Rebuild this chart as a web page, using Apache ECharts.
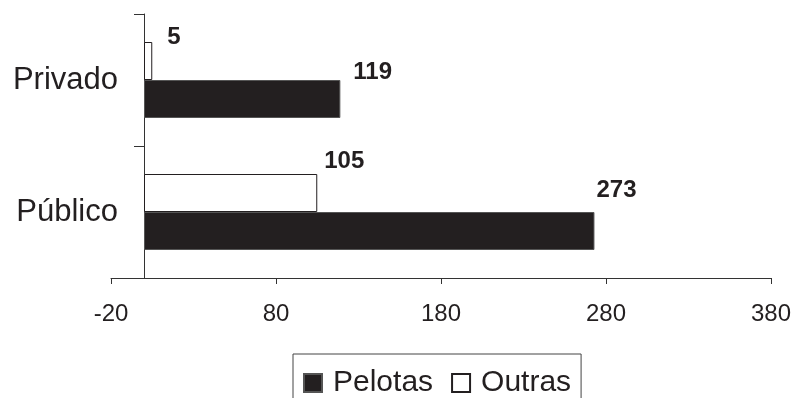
<!DOCTYPE html>
<html>
<head>
<meta charset="utf-8">
<script src="https://cdn.jsdelivr.net/npm/echarts@6/dist/echarts.min.js"></script>
<style>
  html, body { margin: 0; padding: 0; background: #fff; }
  #chart { width: 795px; height: 398px; }
</style>
</head>
<body>
<div id="chart"></div>
<script>
const categories = ['Público', 'Privado']
const pelotas = [273, 119]
const outras = [105, 5]
const xTicks = { min: -20, max: 380, step: 100 }

// label nudges (px) so the numbers sit above-right of the bar end like the original
const pelotasLabelOffset = [[-3, -41], [8, -27]]
const outrasLabelOffset = [[2, -32], [10, -24]]

const ink = '#231f20'
const font = 'Liberation Sans, Arial, sans-serif'

function withLabels(values, offsets) {
  return values.map((v, i) => ({
    value: v,
    label: { offset: offsets[i] }
  }))
}

const chart = echarts.init(document.getElementById('chart'))

const labelStyle = {
  show: true,
  position: 'right',
  fontFamily: font,
  fontSize: 24,
  fontWeight: 'bold',
  color: ink
}

chart.setOption({
  animation: false,
  grid: { left: 111, right: 24, top: 14, bottom: 120, outerBoundsMode: 'none', containLabel: false },
  legend: {
    data: ['Pelotas', 'Outras'],
    left: 293,
    top: 354,
    padding: [14, 10, 14, 10],
    borderColor: '#444',
    borderWidth: 1,
    itemWidth: 18,
    itemHeight: 18,
    itemGap: 18,
    icon: 'rect',
    textStyle: { fontFamily: font, fontSize: 30, color: ink, padding: [0, 0, 0, 6] }
  },
  xAxis: {
    type: 'value',
    min: xTicks.min,
    max: xTicks.max,
    interval: xTicks.step,
    splitLine: { show: false },
    axisLine: { show: true, lineStyle: { color: '#333', width: 1 } },
    axisTick: { show: true, length: 6, lineStyle: { color: '#333' } },
    axisLabel: { fontFamily: font, fontSize: 24, color: ink, margin: 24 }
  },
  yAxis: {
    type: 'category',
    data: categories,
    axisLine: { show: true, onZero: true, lineStyle: { color: '#333', width: 1 } },
    axisTick: { show: true, length: 10, lineStyle: { color: '#333' } },
    // labels are laid out from the grid edge, not the zero line
    axisLabel: { fontFamily: font, fontSize: 31, color: ink, margin: -7 }
  },
  series: [
    {
      name: 'Outras',
      type: 'bar',
      barWidth: 38,
      barGap: '0%',
      itemStyle: { color: '#fff', borderColor: ink, borderWidth: 1 },
      label: labelStyle,
      data: withLabels(outras, outrasLabelOffset)
    },
    {
      name: 'Pelotas',
      type: 'bar',
      barWidth: 38,
      barGap: '0%',
      itemStyle: { color: ink, borderColor: '#555', borderWidth: 1 },
      label: labelStyle,
      data: withLabels(pelotas, pelotasLabelOffset)
    }
  ]
})
</script>
</body>
</html>
